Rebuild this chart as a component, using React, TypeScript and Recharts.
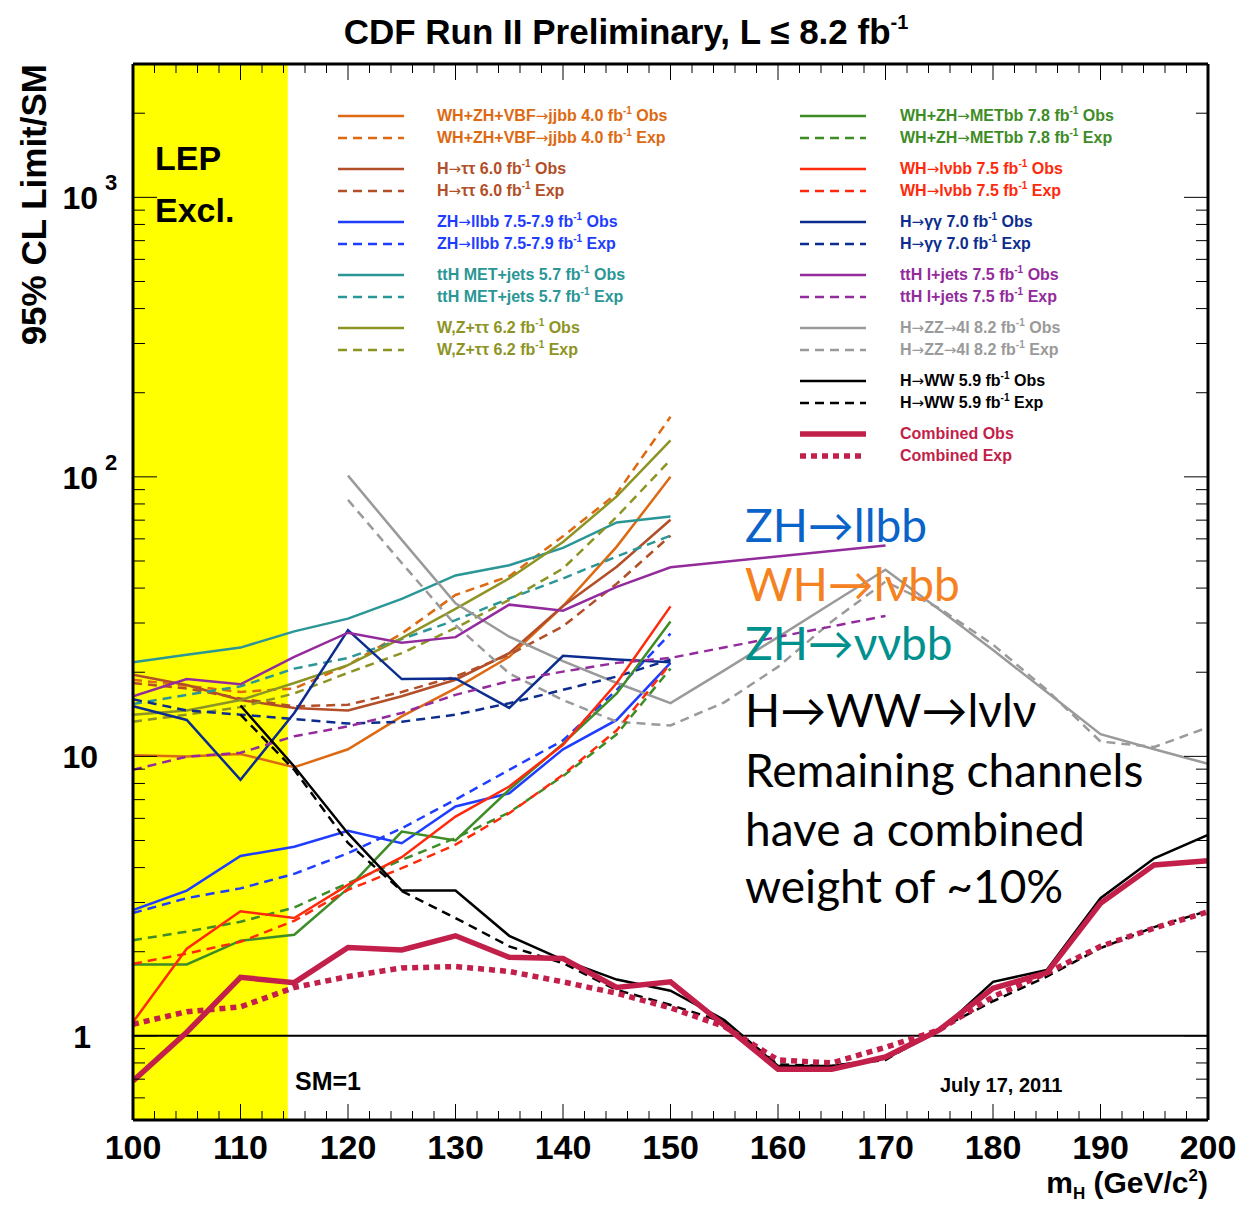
import React from 'react'
import { LineChart, Line, XAxis, YAxis, ReferenceArea, ReferenceLine, Legend } from 'recharts'

// masses (GeV/c^2) at which each channel was evaluated
const massLow = [100, 105, 110, 115, 120, 125, 130, 135, 140, 145, 150]
const massTtH = [100, 105, 110, 115, 120, 125, 130, 135, 140, 145, 150, 170]
const massWW = [110, 115, 120, 125, 130, 135, 140, 145, 150, 155, 160, 165, 170, 175, 180, 185, 190, 195, 200]
const massZZ = [120, 125, 130, 135, 140, 145, 150, 155, 160, 165, 170, 175, 180, 185, 190, 195, 200]
const massAll = [100, 105, 110, 115, 120, 125, 130, 135, 140, 145, 150, 155, 160, 165, 170, 175, 180, 185, 190, 195, 200]

// 95% CL limits / SM
const jjbbObs = [10.1, 9.98, 10.2, 9.14, 10.6, 13.9, 17.5, 22.7, 34.5, 56.3, 100]
const jjbbExp = [18.8, 17.9, 17.0, 17.5, 21.2, 27.5, 37.8, 44.1, 61.3, 87.2, 164]
const tautauObs = [19.6, 18.0, 15.9, 14.9, 14.6, 16.4, 18.8, 23.4, 34.5, 47.7, 70.2]
const tautauExp = [18.3, 17.5, 16.1, 15.1, 15.3, 17.0, 19.3, 23.1, 29.2, 41.5, 61.6]
const llbbObs = [2.82, 3.31, 4.4, 4.75, 5.42, 4.89, 6.62, 7.38, 10.6, 13.5, 21.6]
const llbbExp = [2.75, 3.11, 3.37, 3.8, 4.5, 5.53, 7.0, 8.95, 11.4, 17.3, 27.5]
const ttHMetObs = [21.7, 23.1, 24.5, 28.0, 31.1, 36.6, 44.4, 48.3, 55.7, 68.7, 72.1]
const ttHMetExp = [15.4, 16.6, 17.8, 20.6, 22.5, 26.3, 30.7, 36.7, 43.3, 51.9, 61.6]
const wzTauObs = [14.1, 14.6, 15.9, 18.3, 21.2, 26.5, 33.7, 43.3, 58.5, 85.1, 135]
const wzTauExp = [13.3, 14.1, 15.0, 16.8, 19.9, 23.4, 28.8, 36.3, 47.0, 72.0, 115]
const metbbObs = [1.8, 1.8, 2.19, 2.3, 3.37, 5.38, 5.0, 7.6, 11.1, 16.8, 30.4]
const metbbExp = [2.2, 2.36, 2.56, 2.88, 3.52, 4.26, 5.1, 6.3, 8.5, 12.0, 20.6]
const lvbbObs = [1.12, 2.05, 2.79, 2.64, 3.47, 4.36, 6.09, 7.8, 11.0, 18.3, 34.4]
const lvbbExp = [1.81, 1.97, 2.17, 2.58, 3.33, 3.98, 4.83, 6.26, 8.59, 12.4, 21.5]
const ggObs = [15.1, 13.5, 8.24, 14.3, 28.3, 18.9, 19.0, 14.9, 22.9, 22.2, 21.7]
const ggExp = [16.0, 14.6, 14.1, 13.6, 13.1, 13.3, 14.1, 15.5, 17.3, 19.3, 22.2]
const ttHLepObs = [16.4, 18.9, 18.1, 22.7, 27.7, 25.5, 26.7, 34.9, 33.2, 40.4, 47.5, 56.8]
const ttHLepExp = [8.95, 9.98, 10.3, 11.8, 12.8, 14.3, 16.6, 18.6, 20.1, 21.6, 22.5, 31.8]
const zzObs = [101, 59.5, 35.3, 26.8, 21.9, 18.3, 15.5, 20.3, 26.7, 35.3, 46.5, 33.5, 24.0, 17.0, 12.0, 10.6, 9.4]
const zzExp = [82.7, 49.2, 29.5, 19.8, 15.9, 13.3, 12.9, 15.6, 20.9, 30.4, 42.2, 33.9, 25.1, 17.3, 11.3, 10.8, 12.7]
const wwObs = [15.2, 9.2, 5.3, 3.31, 3.31, 2.28, 1.87, 1.59, 1.45, 1.14, 0.78, 0.78, 0.83, 1.04, 1.56, 1.72, 3.11, 4.32, 5.24]
const wwExp = [14.1, 8.95, 4.9, 3.3, 2.64, 2.09, 1.82, 1.46, 1.29, 1.12, 0.79, 0.78, 0.82, 1.06, 1.33, 1.63, 2.06, 2.45, 2.8]
const combObs = [0.69, 1.03, 1.62, 1.55, 2.07, 2.03, 2.28, 1.91, 1.89, 1.49, 1.56, 1.09, 0.76, 0.76, 0.84, 1.05, 1.48, 1.68, 2.98, 4.09, 4.23]
const combExp = [1.1, 1.22, 1.27, 1.49, 1.63, 1.75, 1.77, 1.7, 1.56, 1.42, 1.26, 1.08, 0.82, 0.8, 0.91, 1.05, 1.38, 1.68, 2.09, 2.43, 2.78]

// tick labels
const xLabels = [100, 110, 120, 130, 140, 150, 160, 170, 180, 190, 200]
const yLabels = [1, 10, 100, 1000]

const FONT = '"Liberation Sans", Arial, Helvetica, sans-serif'
const DASH = '9 6'
const DOT = '6 5'
const ARROW = '\u2192'

const pts = (ms: number[], vs: number[]) => ms.map((m, i) => ({ m, v: vs[i] }))

type Series = {
  key: string
  label: string
  lumi?: string
  kind: 'Obs' | 'Exp'
  color: string
  mass: number[]
  values: number[]
  width: number
  dash?: string
  col: 0 | 1
  group: number
}

const series: Series[] = [
  { key: 'jjbbO', label: 'WH+ZH+VBF\u2192jjbb 4.0', lumi: 'fb', kind: 'Obs', color: '#dd6a12', mass: massLow, values: jjbbObs, width: 2.5, col: 0, group: 0 },
  { key: 'jjbbE', label: 'WH+ZH+VBF\u2192jjbb 4.0', lumi: 'fb', kind: 'Exp', color: '#dd6a12', mass: massLow, values: jjbbExp, width: 2.5, dash: DASH, col: 0, group: 0 },
  { key: 'ttO', label: 'H\u2192\u03c4\u03c4 6.0', lumi: 'fb', kind: 'Obs', color: '#b24e28', mass: massLow, values: tautauObs, width: 2.5, col: 0, group: 1 },
  { key: 'ttE', label: 'H\u2192\u03c4\u03c4 6.0', lumi: 'fb', kind: 'Exp', color: '#b24e28', mass: massLow, values: tautauExp, width: 2.5, dash: DASH, col: 0, group: 1 },
  { key: 'llO', label: 'ZH\u2192llbb 7.5-7.9', lumi: 'fb', kind: 'Obs', color: '#1f3dff', mass: massLow, values: llbbObs, width: 2.5, col: 0, group: 2 },
  { key: 'llE', label: 'ZH\u2192llbb 7.5-7.9', lumi: 'fb', kind: 'Exp', color: '#1f3dff', mass: massLow, values: llbbExp, width: 2.5, dash: DASH, col: 0, group: 2 },
  { key: 'tmO', label: 'ttH MET+jets 5.7', lumi: 'fb', kind: 'Obs', color: '#2a9696', mass: massLow, values: ttHMetObs, width: 2.5, col: 0, group: 3 },
  { key: 'tmE', label: 'ttH MET+jets 5.7', lumi: 'fb', kind: 'Exp', color: '#2a9696', mass: massLow, values: ttHMetExp, width: 2.5, dash: DASH, col: 0, group: 3 },
  { key: 'wzO', label: 'W,Z+\u03c4\u03c4 6.2', lumi: 'fb', kind: 'Obs', color: '#8d9424', mass: massLow, values: wzTauObs, width: 2.5, col: 0, group: 4 },
  { key: 'wzE', label: 'W,Z+\u03c4\u03c4 6.2', lumi: 'fb', kind: 'Exp', color: '#8d9424', mass: massLow, values: wzTauExp, width: 2.5, dash: DASH, col: 0, group: 4 },
  { key: 'zzO', label: 'H\u2192ZZ\u21924l 8.2', lumi: 'fb', kind: 'Obs', color: '#9a9a9a', mass: massZZ, values: zzObs, width: 2.5, col: 1, group: 4 },
  { key: 'zzE', label: 'H\u2192ZZ\u21924l 8.2', lumi: 'fb', kind: 'Exp', color: '#9a9a9a', mass: massZZ, values: zzExp, width: 2.5, dash: DASH, col: 1, group: 4 },
  { key: 'ggO', label: 'H\u2192\u03b3\u03b3 7.0', lumi: 'fb', kind: 'Obs', color: '#0c2d8e', mass: massLow, values: ggObs, width: 2.5, col: 1, group: 2 },
  { key: 'ggE', label: 'H\u2192\u03b3\u03b3 7.0', lumi: 'fb', kind: 'Exp', color: '#0c2d8e', mass: massLow, values: ggExp, width: 2.5, dash: DASH, col: 1, group: 2 },
  { key: 'tlO', label: 'ttH l+jets 7.5', lumi: 'fb', kind: 'Obs', color: '#932b9c', mass: massTtH, values: ttHLepObs, width: 2.5, col: 1, group: 3 },
  { key: 'tlE', label: 'ttH l+jets 7.5', lumi: 'fb', kind: 'Exp', color: '#932b9c', mass: massTtH, values: ttHLepExp, width: 2.5, dash: DASH, col: 1, group: 3 },
  { key: 'metO', label: 'WH+ZH\u2192METbb 7.8', lumi: 'fb', kind: 'Obs', color: '#3d8c26', mass: massLow, values: metbbObs, width: 2.5, col: 1, group: 0 },
  { key: 'metE', label: 'WH+ZH\u2192METbb 7.8', lumi: 'fb', kind: 'Exp', color: '#3d8c26', mass: massLow, values: metbbExp, width: 2.5, dash: DASH, col: 1, group: 0 },
  { key: 'lvO', label: 'WH\u2192l\u03bdbb 7.5', lumi: 'fb', kind: 'Obs', color: '#ff2a0c', mass: massLow, values: lvbbObs, width: 2.5, col: 1, group: 1 },
  { key: 'lvE', label: 'WH\u2192l\u03bdbb 7.5', lumi: 'fb', kind: 'Exp', color: '#ff2a0c', mass: massLow, values: lvbbExp, width: 2.5, dash: DASH, col: 1, group: 1 },
  { key: 'wwO', label: 'H\u2192WW 5.9', lumi: 'fb', kind: 'Obs', color: '#000000', mass: massWW, values: wwObs, width: 2.5, col: 1, group: 5 },
  { key: 'wwE', label: 'H\u2192WW 5.9', lumi: 'fb', kind: 'Exp', color: '#000000', mass: massWW, values: wwExp, width: 2.5, dash: DASH, col: 1, group: 5 },
  { key: 'cE', label: 'Combined', kind: 'Exp', color: '#c21f4a', mass: massAll, values: combExp, width: 5.5, dash: DOT, col: 1, group: 6 },
  { key: 'cO', label: 'Combined', kind: 'Obs', color: '#c21f4a', mass: massAll, values: combObs, width: 5.5, col: 1, group: 6 },
]

const xTicks = Array.from({ length: 51 }, (_, i) => 100 + 2 * i)
const yTicks = [0.6, 0.7, 0.8, 0.9].concat(
  ...[1, 10, 100].map((d) => [1, 2, 3, 4, 5, 6, 7, 8, 9].map((k) => k * d)),
  [1000, 2000, 3000]
)

const isMajorY = (v: number) => yLabels.includes(v)

function BottomTick({ x, y, payload }: any) {
  const v = payload.value
  const major = xLabels.includes(v)
  return (
    <g>
      <line x1={x} x2={x} y1={y} y2={y - (major ? 16 : 9)} stroke="#000" strokeWidth={1} />
      {major && (
        <text x={x} y={y + 39} textAnchor="middle" fontFamily={FONT} fontWeight="bold" fontSize={34} fill="#000">
          {v}
        </text>
      )}
    </g>
  )
}

function TopTick({ x, y, payload }: any) {
  const major = xLabels.includes(payload.value)
  return <line x1={x} x2={x} y1={y} y2={y + (major ? 16 : 9)} stroke="#000" strokeWidth={1} />
}

function LeftTick({ x, y, payload }: any) {
  const v = payload.value
  const major = isMajorY(v)
  const exp = Math.round(Math.log10(v))
  const txt = { fontFamily: FONT, fontWeight: 'bold' as const, fill: '#000' }
  return (
    <g>
      <line x1={x} x2={x + (major ? 24 : 12)} y1={y} y2={y} stroke="#000" strokeWidth={1} />
      {major && v === 1 && (
        <text x={x - 42} y={y + 12} textAnchor="end" fontSize={32} {...txt}>
          1
        </text>
      )}
      {major && v > 1 && (
        <text x={x - 35} y={y + 12} textAnchor="end" fontSize={32} {...txt}>
          10
        </text>
      )}
      {major && v > 10 && (
        <text x={x - 28} y={y - 7} textAnchor="start" fontSize={22} {...txt}>
          {exp}
        </text>
      )}
    </g>
  )
}

function RightTick({ x, y, payload }: any) {
  const major = isMajorY(payload.value)
  return <line x1={x} x2={x - (major ? 24 : 12)} y1={y} y2={y} stroke="#000" strokeWidth={1} />
}

// arrows drawn in a font whose arrow glyph is wide enough
function withArrows(text: string) {
  const parts = text.split(ARROW)
  return parts.map((p, i) => (
    <React.Fragment key={i}>
      {i > 0 && (
        <span style={{ fontFamily: '"DejaVu Sans", sans-serif', fontWeight: 'normal', fontSize: 15 }}>{ARROW}</span>
      )}
      {p}
    </React.Fragment>
  ))
}

function LegendBox() {
  return (
    <div style={{ position: 'relative', width: 1258, height: 470, fontFamily: FONT }}>
      {series.map((s) => {
        const sub = s.kind === 'Obs' ? 0 : 1
        const yc = 116 + s.group * 53 + sub * 21.5
        const lineX = s.col === 0 ? 338 : 800
        const textX = s.col === 0 ? 437 : 900
        return (
          <React.Fragment key={s.key}>
            <svg width={66} height={12} style={{ position: 'absolute', left: lineX, top: yc - 6 }}>
              <line x1={0} x2={66} y1={6} y2={6} stroke={s.color} strokeWidth={s.width} strokeDasharray={s.dash} />
            </svg>
            <div
              style={{
                position: 'absolute',
                left: textX,
                top: yc - 10,
                lineHeight: '20px',
                fontSize: 16,
                fontWeight: 'bold',
                color: s.color,
                whiteSpace: 'nowrap',
              }}
            >
              {withArrows(s.label)}
              {s.lumi && (
                <>
                  {' '}
                  {s.lumi}
                  <span style={{ fontSize: 10, position: 'relative', top: -7 }}>-1</span>
                </>
              )}{' '}
              {s.kind}
            </div>
          </React.Fragment>
        )
      })}
    </div>
  )
}

export default function App() {
  const bold = { fontFamily: FONT, fontWeight: 'bold' as const, fill: '#000' }
  const note = { fontFamily: 'Lato, "Open Sans", sans-serif', fontSize: 46 }
  return (
    <div style={{ position: 'absolute', left: 0, top: 0, width: 1258, height: 1206, background: '#fff' }}>
      <LineChart width={1258} height={1206} margin={{ top: 54, right: 40, bottom: 56, left: 73 }}>
        <XAxis
          dataKey="m"
          type="number"
          domain={[100, 200]}
          ticks={xTicks}
          interval={0}
          tickSize={0}
          tickMargin={0}
          height={30}
          tick={<BottomTick />}
          axisLine={{ stroke: '#000', strokeWidth: 3 }}
          allowDataOverflow
        />
        <XAxis
          xAxisId="top"
          orientation="top"
          dataKey="m"
          type="number"
          domain={[100, 200]}
          ticks={xTicks}
          interval={0}
          tickSize={0}
          tickMargin={0}
          height={10}
          tick={<TopTick />}
          axisLine={{ stroke: '#000', strokeWidth: 3 }}
          allowDataOverflow
        />
        <YAxis
          scale="log"
          domain={[0.5, 3000]}
          ticks={yTicks}
          interval={0}
          tickSize={0}
          tickMargin={0}
          width={60}
          tick={<LeftTick />}
          axisLine={{ stroke: '#000', strokeWidth: 3 }}
          allowDataOverflow
        />
        <YAxis
          yAxisId="right"
          orientation="right"
          scale="log"
          domain={[0.5, 3000]}
          ticks={yTicks}
          interval={0}
          tickSize={0}
          tickMargin={0}
          width={10}
          tick={<RightTick />}
          axisLine={{ stroke: '#000', strokeWidth: 3 }}
          allowDataOverflow
        />
        <ReferenceArea x1={100} x2={114.4} y1={0.5} y2={3000} fill="#ffff00" fillOpacity={1} stroke="none" />
        <ReferenceLine y={1} stroke="#000" strokeWidth={2} />
        <Legend
          layout="horizontal"
          verticalAlign="middle"
          align="center"
          content={<LegendBox />}
          wrapperStyle={{ position: 'absolute', left: 0, top: 0, width: 1258, height: 470 }}
        />
        {series.map((s) => (
          <Line
            key={s.key}
            data={pts(s.mass, s.values)}
            dataKey="v"
            name={`${s.label} ${s.kind}`}
            type="linear"
            stroke={s.color}
            strokeWidth={s.width}
            strokeDasharray={s.dash}
            dot={false}
            activeDot={false}
            isAnimationActive={false}
          />
        ))}
      </LineChart>
      <svg width={1258} height={1206} style={{ position: 'absolute', left: 0, top: 0, pointerEvents: 'none' }}>
        <text x={626} y={44} textAnchor="middle" {...bold} fontSize={35}>
          CDF Run II Preliminary, L {'\u2264'} 8.2 fb
          <tspan fontSize={20} dy={-15}>-1</tspan>
        </text>
        <text transform="translate(46,64) rotate(-90)" textAnchor="end" {...bold} fontSize={35}>
          95% CL Limit/SM
        </text>
        <text x={1208} y={1193} textAnchor="end" {...bold} fontSize={30}>
          m<tspan fontSize={17} dy={6}>H</tspan>
          <tspan dy={-6}> (GeV/c</tspan>
          <tspan fontSize={17} dy={-12}>2</tspan>
          <tspan dy={12}>)</tspan>
        </text>
        <text x={155} y={170} {...bold} fontSize={34}>LEP</text>
        <text x={155} y={222} {...bold} fontSize={34}>Excl.</text>
        <text x={295} y={1090} {...bold} fontSize={25}>SM=1</text>
        <text x={940} y={1092} {...bold} fontSize={20}>July 17, 2011</text>
        <text x={745} y={542} {...note} fill="#0a63c9">ZH{ARROW}llbb</text>
        <text x={745} y={601} {...note} fill="#f5821f">WH{ARROW}l{'\u03bd'}bb</text>
        <text x={745} y={660} {...note} fill="#00918f">ZH{ARROW}{'\u03bd\u03bd'}bb</text>
        <text x={745} y={727} {...note} fill="#000">H{ARROW}WW{ARROW}l{'\u03bd'}l{'\u03bd'}</text>
        <text x={745} y={787} {...note} fill="#000">Remaining channels</text>
        <text x={745} y={846} {...note} fill="#000">have a combined</text>
        <text x={745} y={903} {...note} fill="#000">weight of ~10%</text>
      </svg>
    </div>
  )
}
